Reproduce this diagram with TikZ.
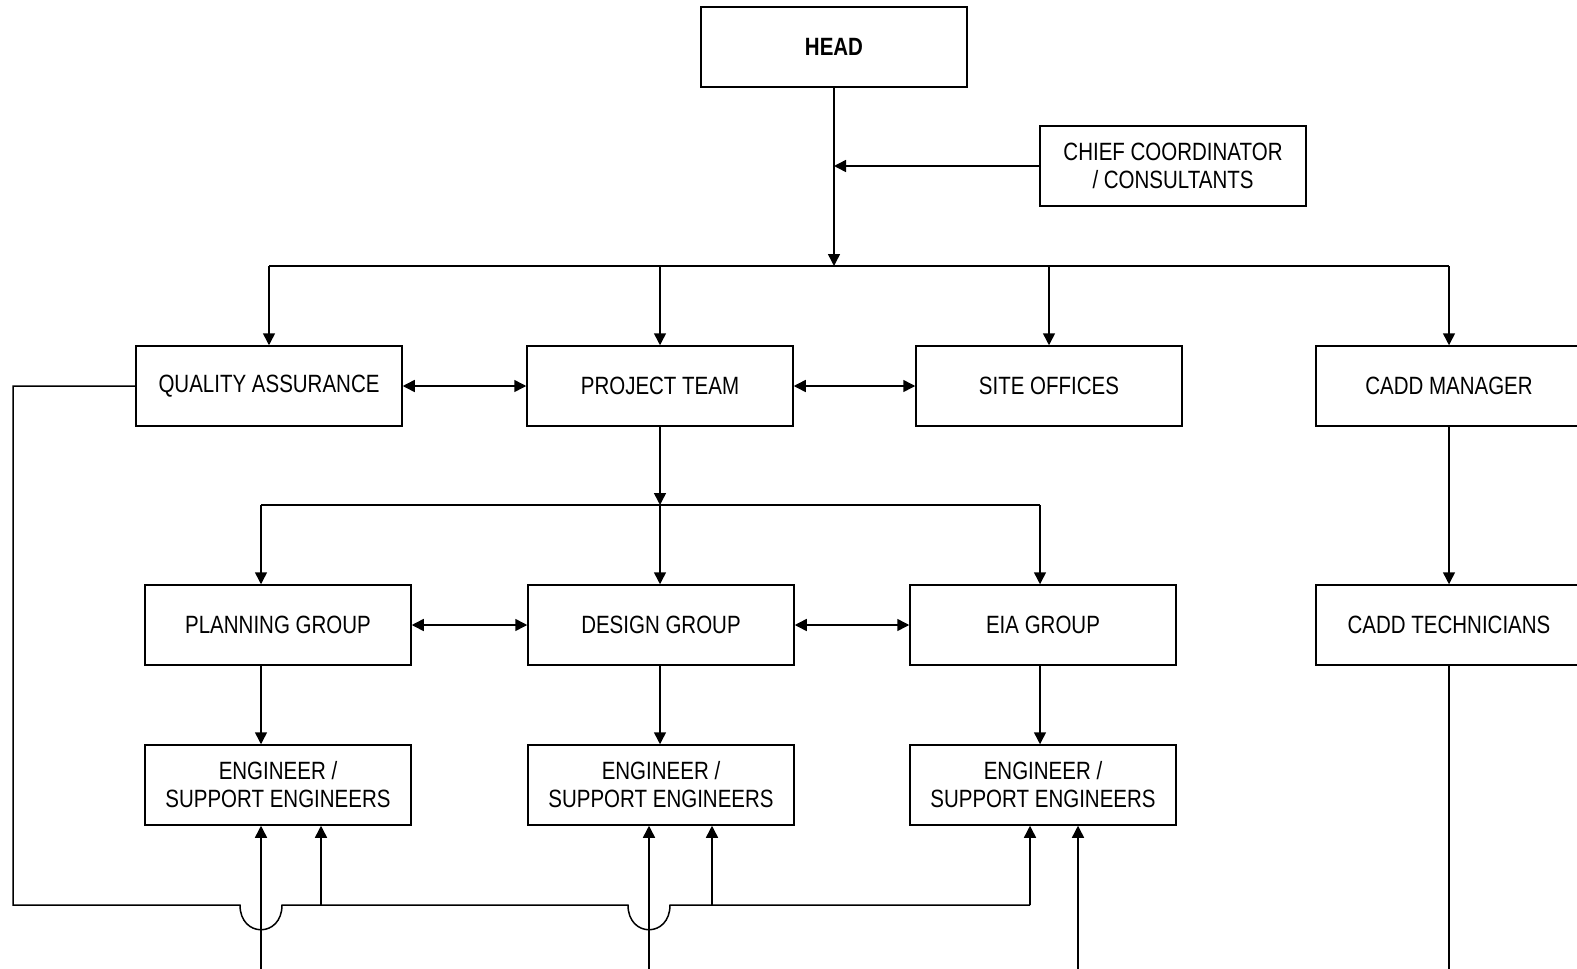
\documentclass[tikz,border=0pt]{standalone}
\usepackage{fontspec}
\setmainfont{Liberation Sans}[FakeStretch=0.82]
\usepackage{tikz}
\usetikzlibrary{arrows.meta,shapes}
\tikzstyle{box}=[draw,line width=1.5pt,minimum width=266pt,minimum height=80pt,inner sep=0pt,align=center,font=\fontsize{25}{28}\selectfont]
\tikzstyle{wire}=[draw,line width=1.5pt]
\tikzstyle{arrow}=[draw,line width=1.5pt,-{Triangle[length=12pt,width=12pt]}]
\tikzstyle{twoway}=[draw,line width=1.5pt,{Triangle[length=12pt,width=12pt]}-{Triangle[length=12pt,width=12pt]}]

\begin{document}
\begin{tikzpicture}[x=1pt,y=-1pt]
    \useasboundingbox (0,0) rectangle (1577,969);
    \node[box,font=\fontsize{25}{28}\selectfont\bfseries] (head) at (834,47) {HEAD};
    \node[box] (chief) at (1173,166) {CHIEF COORDINATOR\\/ CONSULTANTS};
    \foreach \pos/\name/\txt in {{(269,386)/qa/QUALITY ASSURANCE}, {(660,386)/pt/PROJECT TEAM}, {(1049,386)/site/SITE OFFICES}, {(1449,386)/cm/CADD MANAGER}, {(278,625)/plan/PLANNING GROUP}, {(661,625)/design/DESIGN GROUP}, {(1043,625)/eia/EIA GROUP}, {(1449,625)/ct/CADD TECHNICIANS}}
        \node[box] (\name) at \pos {\txt};
    \foreach \pos/\name in {{(278,785)/eng1}, {(661,785)/eng2}, {(1043,785)/eng3}}
        \node[box] (\name) at \pos {ENGINEER /\\SUPPORT ENGINEERS};

    % head to first level
    \coordinate (hub) at (834,266);
    \path[arrow] (head) -- (hub);
    \path[arrow] (chief) -- (chief -| head);
    \path[wire] (qa.north |- hub) -- (cm.north |- hub);
    \foreach \name in {qa,pt,site,cm}
        \path[arrow] (\name.north |- hub) -- (\name.north);
    \path[twoway] (qa) -- (pt);
    \path[twoway] (pt) -- (site);

    % project team to groups
    \coordinate (split) at (660,505);
    \coordinate (pl) at (261,505);
    \coordinate (ea) at (1040,505);
    \path[arrow] (pt) -- (split);
    \path[wire] (pl) -- (ea);
    \foreach \x/\name/\sub in {pl/plan/eng1, split/design/eng2, ea/eia/eng3}{
        \path[arrow] (\x) -- (\x |- \name.north);
        \path[arrow] (\x |- \name.south) -- (\x |- \sub.north);
    }
    \path[twoway] (plan) -- (design);
    \path[twoway] (design) -- (eia);
    \path[arrow] (cm) -- (ct);
    \path[wire] (ct.south) -- (ct.south |- 0,969);

    % lines from below
    \foreach \name/\x in {b1/261, b2/649, b3/1078}
        \coordinate (\name) at (\x,969);
    \foreach \b/\e in {b1/eng1, b2/eng2, b3/eng3}
        \path[arrow] (\b) -- (\b |- \e.south);

    % quality assurance feedback
    \coordinate (corner) at (13,905);
    \foreach \name/\x in {f1/321, f2/712, f3/1030}
        \coordinate (\name) at (\x,905);
    \path[wire] (qa.west) -- (qa.west -| corner) -- (corner) -- (240,905)
        .. controls (240,938) and (282,938) .. (282,905) -- (628,905)
        .. controls (628,938) and (670,938) .. (670,905) -- (f3);
    \foreach \f/\e in {f1/eng1, f2/eng2, f3/eng3}
        \path[arrow] (\f) -- (\f |- \e.south);
\end{tikzpicture}
\end{document}
